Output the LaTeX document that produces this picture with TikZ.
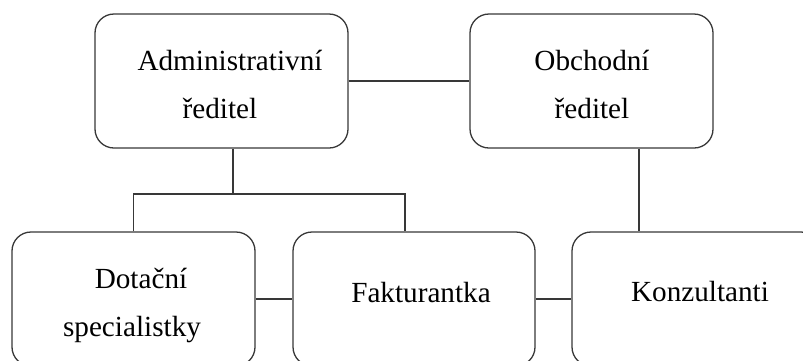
\documentclass[tikz,border=0pt]{standalone}
\usepackage{fontspec}
\setmainfont{Liberation Serif}
\begin{document}
\begin{tikzpicture}[x=1pt,y=-1pt,
  box/.style={draw=black!78, line width=1.3pt, rounded corners=19pt,
    minimum width=243pt, minimum height=134pt, inner sep=0pt},
  lbl/.style={anchor=base, inner sep=0pt, font=\fontsize{29.2pt}{35pt}\selectfont},
  link/.style={draw=black!78, line width=1.3pt}]
\useasboundingbox (0,0) rectangle (803,360);

% top row
\node[box, minimum width=253pt] (A) at (221.5,81) {};
\node[box] (B) at (591.5,81) {};
% bottom row
\node[box] (D) at (133.5,299) {};
\node[box, minimum width=242pt] (F) at (414,299) {};
\node[box, minimum width=248pt] (K) at (696,299) {};

% labels
\node[lbl] (a1) at (230,70) {Administrativní};
\node[lbl] (a2) at (220,118) {ředitel};
\node[lbl] (b1) at (592,70) {Obchodní};
\node[lbl] (b2) at (592,118) {ředitel};
\node[lbl] (d1) at (141,288) {Dotační};
\node[lbl] (d2) at (132,336) {specialistky};
\node[lbl] (f1) at (421,302) {Fakturantka};
\node[lbl] (k1) at (700,301) {Konzultanti};

% connectors
\coordinate (busL) at (133.5,194);
\coordinate (busM) at (233,194);
\coordinate (busR) at (405,194);
\draw[link] (A.east) -- (B.west);
\draw[link] ([xshift=11.5pt]A.south) -- (busM);
\draw[link] (D.north) -- (busL) -- (busR) -- (F.north -| busR);
\draw[link] ([xshift=47.5pt]B.south) -- ([xshift=47.5pt]B.south |- K.north);
\draw[link] (D.east) -- (F.west);
\draw[link] (F.east) -- (K.west);
\end{tikzpicture}
\end{document}
